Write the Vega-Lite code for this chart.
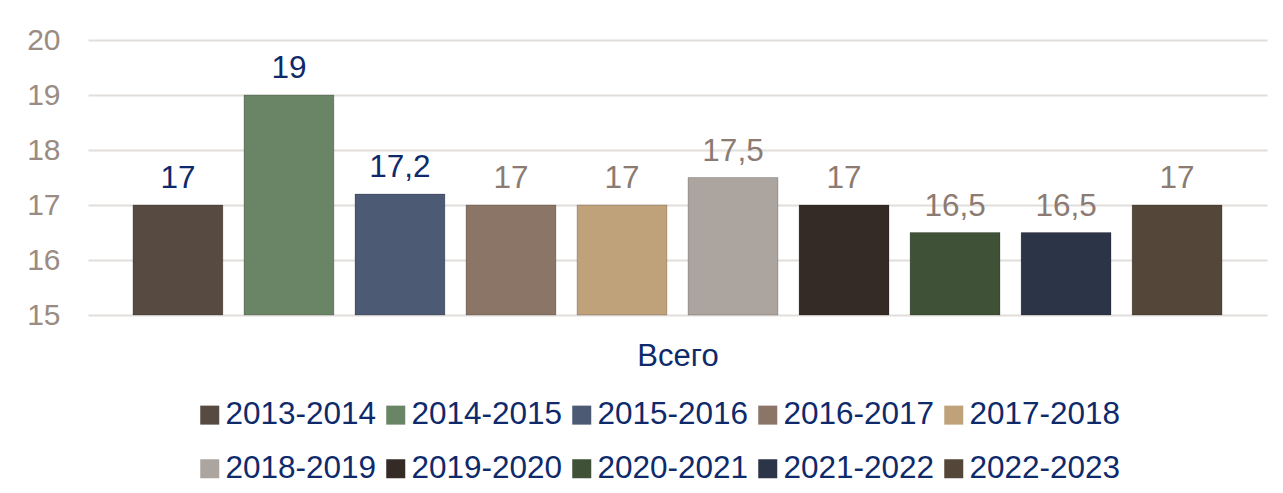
{
  "$schema": "https://vega.github.io/schema/vega-lite/v6.json",
  "width": 1179,
  "height": 275,
  "autosize": {"type": "none"},
  "padding": {"left": 88, "top": 40, "right": 16, "bottom": 178},
  "background": "white",
  "config": {
    "view": {"stroke": null},
    "font": "Liberation Sans",
    "locale": {"number": {"decimal": ",", "thousands": " ", "grouping": [3], "currency": ["", ""]}}
  },
  "data": {
    "values": [
      {"period": "2013-2014", "value": 17},
      {"period": "2014-2015", "value": 19},
      {"period": "2015-2016", "value": 17.2},
      {"period": "2016-2017", "value": 17},
      {"period": "2017-2018", "value": 17},
      {"period": "2018-2019", "value": 17.5},
      {"period": "2019-2020", "value": 17},
      {"period": "2020-2021", "value": 16.5},
      {"period": "2021-2022", "value": 16.5},
      {"period": "2022-2023", "value": 17}
    ]
  },
  "encoding": {
    "x": {
      "field": "period",
      "type": "nominal",
      "sort": null,
      "scale": {"paddingInner": 0.19, "paddingOuter": 0.405},
      "axis": {
        "title": "Всего",
        "labels": false,
        "ticks": false,
        "domain": false,
        "titleFontSize": 31,
        "titleColor": "#0e2a6b",
        "titleFontWeight": "normal",
        "titlePadding": 26
      }
    },
    "y": {
      "field": "value",
      "type": "quantitative",
      "scale": {"domain": [15, 20], "zero": false, "nice": false},
      "axis": {
        "title": null,
        "values": [15, 16, 17, 18, 19, 20],
        "domain": false,
        "ticks": false,
        "labelFontSize": 30,
        "labelColor": "#9a8b83",
        "labelPadding": 28,
        "gridColor": "#e2dedb",
        "gridWidth": 2
      }
    }
  },
  "layer": [
    {
      "mark": {"type": "bar", "stroke": "#00000030", "strokeWidth": 1},
      "encoding": {
        "y2": {"datum": 15},
        "color": {
          "field": "period",
          "type": "nominal",
          "scale": {
            "domain": ["2013-2014", "2014-2015", "2015-2016", "2016-2017", "2017-2018", "2018-2019", "2019-2020", "2020-2021", "2021-2022", "2022-2023"],
            "range": ["#574a41", "#6a8565", "#4d5a73", "#8a7566", "#bfa17a", "#aca49e", "#342a26", "#3f5238", "#2c3547", "#54473a"]
          },
          "legend": {
            "orient": "none",
            "legendX": 106,
            "legendY": 359,
            "direction": "horizontal",
            "columns": 5,
            "title": null,
            "symbolType": "square",
            "symbolSize": 361,
            "symbolStrokeWidth": 0,
            "labelFontSize": 31.5,
            "labelColor": "#0e2a6b",
            "labelOffset": 0,
            "labelLimit": 0,
            "columnPadding": 3,
            "rowPadding": 21
          }
        }
      }
    },
    {
      "mark": {"type": "text", "baseline": "bottom", "dy": -10, "fontSize": 31.5},
      "encoding": {
        "text": {"field": "value", "type": "quantitative", "format": ".1~f"},
        "color": {
          "condition": {"test": "indexof(['2013-2014','2014-2015','2015-2016'], datum.period) >= 0", "value": "#0e2a6b"},
          "value": "#8c7b72"
        }
      }
    }
  ]
}
